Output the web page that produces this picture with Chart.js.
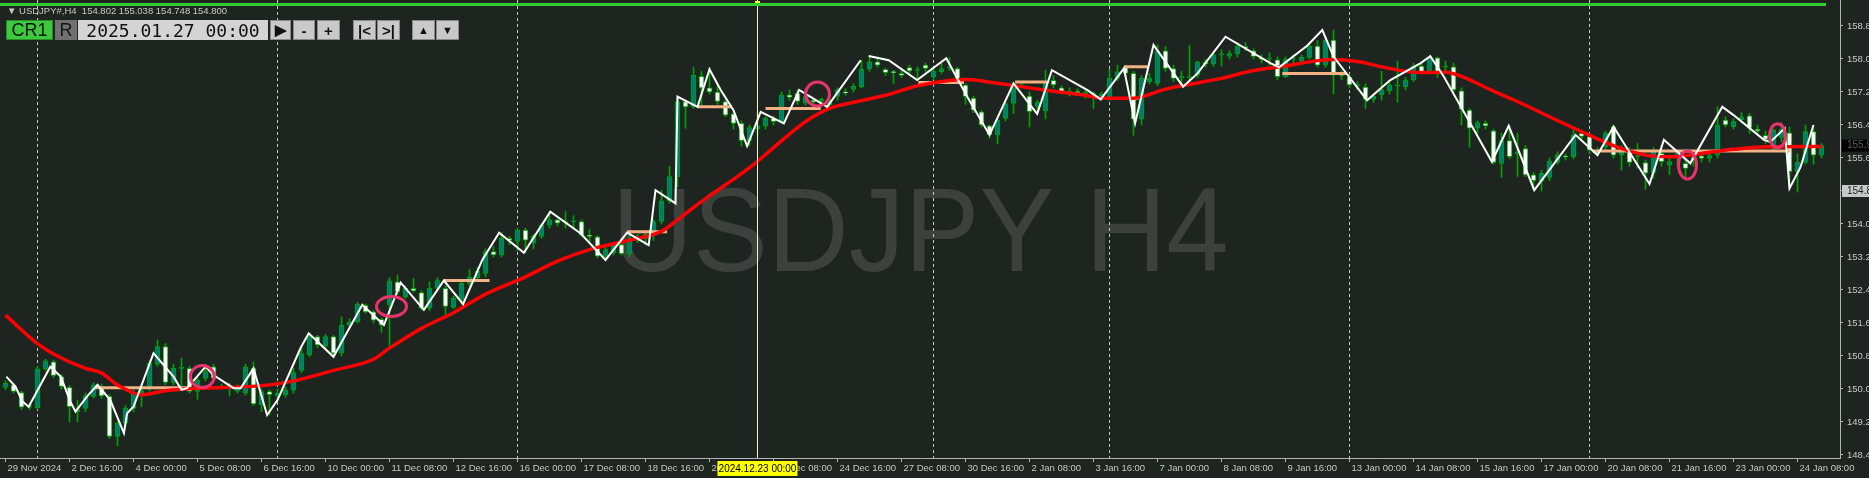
<!DOCTYPE html>
<html>
<head>
<meta charset="utf-8">
<title>USDJPY H4</title>
<script src="https://cdn.jsdelivr.net/npm/chart.js@4/dist/chart.umd.min.js"></script>
<style>
  html, body { margin: 0; padding: 0; background: #1e2521; }
  #wrap { position: relative; width: 1869px; height: 478px; overflow: hidden; }
  #chart { position: absolute; left: 0; top: 0; }
  .topline { position: absolute; left: 0; top: 3px; width: 1826px; height: 3px; background: #32cd32; }
  .hdr { position: absolute; left: 7px; top: 5px; font: 9.5px "Liberation Sans", sans-serif; color: #c8c8c8; white-space: nowrap; }
  .box { position: absolute; top: 20px; height: 20px; box-sizing: border-box; display: flex;
         align-items: center; justify-content: center; font-family: "Liberation Sans", sans-serif; color: #111; }
  .btn { background: #c9c9c9; border: 1px solid #8a8a8a; font-size: 15px; font-weight: bold; }
</style>
</head>
<body>
<div id="wrap">
  <canvas id="chart" width="1869" height="478"></canvas>
  <div class="topline"></div>
  <div class="hdr">&#9660; USDJPY#,H4&nbsp; 154.802 155.038 154.748 154.800</div>
  <div class="box" style="left:6px;width:47px;background:#3dc93d;font-size:18px;border:1px solid #2b8a2b;">CR1</div>
  <div class="box" style="left:55px;width:22px;background:#707070;font-size:18px;color:#151515;">R</div>
  <div class="box" style="left:78px;width:190px;background:#d4d4d4;font:18px 'DejaVu Sans Mono',monospace;">2025.01.27 00:00</div>
  <div class="box btn" style="left:270px;width:21px;">&#9654;</div>
  <div class="box btn" style="left:293px;width:22px;">-</div>
  <div class="box btn" style="left:317px;width:23px;">+</div>
  <div class="box btn" style="left:353px;width:23px;">|&lt;</div>
  <div class="box btn" style="left:377px;width:23px;">&gt;|</div>
  <div class="box btn" style="left:412px;width:23px;font-size:11px;">&#9650;</div>
  <div class="box btn" style="left:436px;width:23px;font-size:11px;">&#9660;</div>
</div>
<script>
// time axis: one label every 8 H4 bars
const tickBars = [0, 8, 16, 24, 32, 40, 48, 56, 64, 72, 80, 88, 96, 104, 112, 120, 128, 136, 144, 152, 160, 168, 176, 184, 192, 200, 208, 216, 224];
const tickLabels = ["29 Nov 2024", "2 Dec 16:00", "4 Dec 00:00", "5 Dec 08:00", "6 Dec 16:00", "10 Dec 00:00", "11 Dec 08:00",
  "12 Dec 16:00", "16 Dec 00:00", "17 Dec 08:00", "18 Dec 16:00", "20 Dec 00:00", "23 Dec 08:00", "24 Dec 16:00",
  "27 Dec 08:00", "30 Dec 16:00", "2 Jan 08:00", "3 Jan 16:00", "7 Jan 00:00", "8 Jan 08:00", "9 Jan 16:00",
  "13 Jan 00:00", "14 Jan 08:00", "15 Jan 16:00", "17 Jan 00:00", "20 Jan 08:00", "21 Jan 16:00", "23 Jan 00:00", "24 Jan 08:00"];
const priceTicks = [148.4, 149.2, 150.0, 150.8, 151.6, 152.4, 153.2, 154.0, 154.8, 155.6, 156.4, 157.2, 158.0, 158.8];

// weekly separators (bar index of Monday 00:00)
const separatorBars = [4, 34, 64, 94, 116, 138, 168, 198];
const crosshairBar = 94;
const crosshairLabel = "2024.12.23 00:00";
const bidPrice = 155.9;
const markPrice = 154.8;

const opens = [
  150.04,150.10,149.91,149.56,149.55,150.49,150.66,150.30,150.04,149.45,
  149.53,149.82,150.05,149.82,148.85,149.17,149.53,149.90,150.00,150.60,
  151.03,150.16,150.50,150.50,149.94,150.26,150.54,150.07,150.02,149.95,
  149.90,150.50,149.62,149.94,149.84,149.86,149.97,150.45,150.83,151.27,
  151.04,151.27,150.87,151.54,151.63,152.03,151.87,151.69,152.04,152.60,
  152.24,152.44,152.34,151.96,152.44,152.44,151.98,152.17,152.56,152.70,
  152.80,153.33,153.25,153.65,153.58,153.85,153.55,153.70,153.97,154.10,
  154.03,154.05,154.06,153.72,153.69,153.22,153.30,153.50,153.28,153.60,
  153.65,153.78,154.06,154.56,155.15,156.97,156.84,157.58,157.30,157.20,
  156.97,156.67,156.44,156.02,156.30,156.38,156.56,156.48,157.13,157.17,
  156.93,157.00,156.98,156.89,157.09,157.20,157.26,157.33,157.76,157.93,
  157.75,157.68,157.65,157.79,157.72,157.85,157.57,157.69,157.78,157.77,
  157.37,157.05,156.72,156.38,156.16,156.56,156.92,157.35,157.10,156.85,
  156.75,157.48,157.30,157.18,157.22,157.15,157.14,157.05,157.05,157.53,
  157.79,157.65,156.54,157.45,157.41,158.20,157.77,157.55,157.55,157.61,
  157.92,157.88,158.10,158.07,158.12,158.30,158.20,158.02,158.00,157.98,
  157.57,158.00,157.96,158.04,158.31,157.85,158.46,157.61,157.57,157.35,
  157.32,157.02,157.13,157.23,157.35,157.33,157.49,157.83,157.69,158.03,
  157.80,157.81,157.23,156.76,156.32,156.44,156.26,155.47,156.02,155.70,
  155.83,155.19,155.05,155.13,155.49,155.65,155.63,156.20,156.12,155.79,
  155.87,156.36,155.67,155.78,155.63,155.49,155.24,155.71,155.43,155.63,
  155.47,155.55,155.65,155.59,155.67,156.52,156.36,156.52,156.62,156.30,
  156.15,155.83,156.10,156.21,155.27,155.49,156.24,155.67];
const highs = [
  150.20,150.14,149.95,149.65,150.55,150.72,150.70,150.35,150.08,149.73,
  149.90,150.15,150.12,149.86,149.20,149.60,149.98,150.10,150.68,151.19,
  151.10,150.60,150.75,150.55,150.30,150.60,150.60,150.12,150.14,150.10,
  150.60,150.66,150.00,149.98,150.00,150.05,150.50,151.00,151.35,151.30,
  151.32,151.30,151.75,151.70,152.10,152.06,151.90,151.72,152.70,152.76,
  152.50,152.68,152.38,152.60,152.70,152.50,152.25,152.60,152.90,152.95,
  153.40,153.45,153.79,153.70,153.90,153.90,153.75,154.00,154.30,154.12,
  154.30,154.20,154.10,153.87,153.72,153.45,153.55,153.64,153.79,153.75,
  153.80,154.10,154.82,155.40,157.10,157.00,157.80,157.70,157.80,157.40,
  157.00,156.70,156.50,156.40,156.72,156.60,156.62,157.20,157.25,157.25,
  157.15,157.05,157.06,157.05,157.30,157.28,157.40,157.97,158.07,158.00,
  157.78,157.72,157.77,157.85,157.81,157.90,157.75,157.90,158.03,157.80,
  157.40,157.10,156.75,156.40,156.55,156.95,157.35,157.43,157.20,157.00,
  157.73,157.60,157.35,157.30,157.28,157.25,157.20,157.20,157.75,157.85,
  157.85,157.70,157.60,157.65,158.34,158.30,157.85,157.70,158.33,157.95,
  158.00,158.15,158.22,158.20,158.40,158.40,158.25,158.10,158.15,158.05,
  158.05,158.10,158.10,158.35,158.45,158.55,158.70,157.70,157.62,157.45,
  157.40,157.15,157.70,157.45,157.95,157.55,157.90,157.90,158.07,158.05,
  157.95,157.90,157.30,156.80,156.50,156.50,156.30,156.20,156.38,156.20,
  155.90,155.25,155.30,155.60,155.75,155.70,156.30,156.25,156.16,155.85,
  156.25,156.40,155.90,155.85,155.95,155.55,155.85,155.80,155.60,155.75,
  155.55,155.70,155.72,155.75,156.84,156.60,156.55,156.70,156.68,156.40,
  156.25,156.30,156.45,156.35,155.70,156.40,156.30,155.95];
const lows = [
  149.98,149.90,149.50,149.50,149.50,150.45,150.28,150.00,149.20,149.20,
  149.45,149.78,149.78,148.80,148.62,149.10,149.45,149.57,149.95,150.55,
  150.10,150.10,150.00,149.90,149.75,150.20,150.20,150.00,149.83,149.90,
  149.85,149.60,149.45,149.37,149.70,149.80,149.90,150.40,150.78,151.00,
  150.98,150.78,150.80,151.50,151.60,151.84,151.60,151.37,150.99,152.30,
  152.20,152.35,151.92,151.90,152.40,151.80,151.95,152.06,152.50,152.65,
  152.72,153.20,153.20,153.50,153.35,153.30,153.40,153.65,153.90,153.95,
  153.90,153.90,153.70,153.57,153.18,153.10,153.25,153.25,153.20,153.55,
  153.49,153.60,154.00,154.50,154.90,156.32,156.80,156.84,157.15,156.90,
  156.60,156.30,155.89,155.90,156.15,156.30,156.40,156.44,157.00,156.90,
  156.88,156.92,156.90,156.84,157.00,157.12,157.20,157.30,157.70,157.80,
  157.60,157.41,157.55,157.65,157.49,157.70,157.50,157.65,157.72,157.40,
  156.90,156.70,156.35,156.08,155.94,156.50,156.68,157.30,156.35,156.67,
  156.55,157.30,157.15,157.10,157.12,157.05,156.80,157.00,157.00,157.48,
  157.60,156.15,156.40,157.40,157.35,157.70,157.45,157.33,157.45,157.55,
  157.80,157.82,157.83,158.00,158.05,158.20,158.00,157.90,157.85,157.50,
  157.55,157.90,157.90,158.00,157.80,157.80,157.15,157.50,157.30,157.25,
  156.80,156.95,157.00,157.15,156.95,157.25,157.45,157.65,157.65,157.55,
  157.70,157.20,156.40,155.86,156.20,156.30,155.45,155.13,155.58,155.15,
  155.15,154.82,154.80,155.05,155.45,155.55,155.58,156.05,155.70,155.67,
  155.80,155.60,155.30,155.40,155.35,154.84,155.10,155.40,155.20,155.40,
  155.10,155.40,155.50,155.50,155.60,156.35,156.30,156.45,156.20,156.15,
  155.95,155.78,156.00,154.86,154.78,155.45,155.45,155.60];
const closes = [
  150.14,149.94,149.56,149.60,150.49,150.68,150.32,150.06,149.57,149.50,
  149.83,150.10,149.83,148.85,149.17,149.53,149.90,149.96,150.62,151.03,
  150.16,150.50,150.52,149.94,150.22,150.42,150.26,150.04,150.00,150.04,
  150.54,149.64,149.94,149.86,149.90,149.97,150.40,150.86,151.27,151.07,
  151.27,150.87,151.55,151.63,152.06,151.87,151.67,151.55,152.62,152.36,
  152.44,152.38,151.96,152.44,152.63,152.00,152.20,152.56,152.72,152.85,
  153.33,153.25,153.65,153.60,153.85,153.61,153.70,153.97,154.10,154.02,
  154.06,154.05,153.73,153.70,153.22,153.38,153.49,153.28,153.61,153.69,
  153.75,154.06,154.56,155.15,156.97,156.84,157.61,157.30,157.20,156.97,
  156.64,156.44,156.02,156.34,156.38,156.56,156.48,157.13,157.07,156.97,
  157.09,156.96,157.02,157.00,157.25,157.18,157.34,157.75,157.93,157.85,
  157.67,157.67,157.60,157.71,157.72,157.77,157.71,157.77,157.78,157.49,
  157.09,156.76,156.40,156.16,156.52,156.92,157.29,157.37,156.72,156.95,
  157.41,157.37,157.21,157.22,157.18,157.20,157.14,157.15,157.53,157.69,
  157.65,156.54,157.53,157.53,158.20,157.77,157.53,157.55,157.55,157.93,
  157.88,158.10,158.10,158.13,158.31,158.27,158.06,157.99,158.00,157.57,
  158.00,158.00,158.04,158.31,157.85,158.46,157.61,157.60,157.37,157.35,
  157.02,157.10,157.25,157.37,157.35,157.49,157.83,157.69,158.03,157.69,
  157.80,157.25,156.78,156.32,156.46,156.38,155.49,156.02,155.63,155.75,
  155.19,155.05,155.23,155.53,155.67,155.62,156.16,156.12,155.79,155.72,
  156.20,155.67,155.83,155.49,155.63,155.23,155.78,155.51,155.51,155.71,
  155.35,155.63,155.59,155.67,156.40,156.40,156.48,156.60,156.32,156.25,
  156.05,156.28,156.30,155.27,155.50,156.24,155.67,155.90];

// moving average [bar, price]
const maPoints = [[0,151.79],[4,151.10],[6,150.85],[10,150.50],[12,150.39],[14,150.10],[17,149.86],[20,149.96],
  [24,150.02],[28,150.04],[33,150.10],[37,150.24],[41,150.45],[46,150.72],[48,150.99],[52,151.47],[56,151.85],
  [60,152.30],[65,152.72],[69,153.10],[73,153.38],[78,153.61],[82,153.82],[84,154.10],[86,154.40],[88,154.68],
  [90,154.95],[92,155.22],[94,155.52],[96,155.85],[98,156.18],[100,156.48],[103,156.80],[106,156.95],[110,157.12],
  [114,157.35],[118,157.48],[120,157.50],[124,157.41],[128,157.30],[131,157.22],[135,157.12],[137,157.05],
  [141,157.05],[145,157.27],[149,157.42],[152,157.53],[156,157.72],[160,157.83],[164,157.96],[166,157.99],
  [169,157.94],[173,157.77],[177,157.67],[180,157.68],[182,157.58],[186,157.22],[189,156.97],[193,156.60],
  [197,156.24],[201,155.90],[205,155.67],[208,155.63],[212,155.71],[216,155.81],[220,155.87],[227,155.88]];

// swing line [bar, price], null = break
const zigzagPoints = [[0.1,150.30],[1.25,150.06],[2.1,149.70],[2.9,149.57],[5.6,150.54],[6.9,150.30],[8.1,149.70],
  [8.75,149.45],[10.2,149.82],[11.5,150.10],[13.1,149.73],[14.8,148.93],[15.2,149.41],[16,149.57],[18.5,150.87],
  [21,150.30],[22,149.98],[22.7,150.02],[25,150.54],[26,150.34],[28.5,150.02],[29.4,150.02],[31,150.50],
  [32.7,149.37],[34,149.73],[36.9,151.00],[37.9,151.35],[41,150.78],[44.6,152.04],[46.2,151.75],[47.3,151.55],
  [49.4,152.58],[52.3,151.92],[54.8,152.63],[57.2,152.06],[59.6,153.13],[61.7,153.79],[64.8,153.30],[68.1,154.30],
  [71.9,153.77],[75,153.13],[77.7,153.79],[80.4,153.49],[81.25,154.82],[83.75,154.50],[84,157.09],[86.5,156.84],
  [88,157.75],[89.4,157.25],[91,156.76],[92.7,155.89],[94.4,156.72],[97.3,156.44],[99.2,157.25],[102.7,156.84],
  [106.9,157.97],[107.4,null],[107.9,158.07],[110.4,157.97],[113.96,157.49],[117.6,158.02],[120.2,157.09],
  [123,156.16],[126,157.41],[128.96,156.67],[130.8,157.73],[135.2,157.25],[136.9,157.02],[139.8,157.77],
  [141.2,156.44],[143.5,158.34],[147.2,157.33],[149,157.65],[152.5,158.54],[158.1,157.90],[159.2,157.80],
  [162.7,158.32],[164.6,158.70],[166,158.06],[170.2,157.00],[173.1,157.49],[176.9,157.90],[178.1,158.07],
  [179.8,157.57],[183.1,156.44],[185.8,155.51],[187.9,156.38],[191.1,154.82],[196.25,156.16],[199,155.67],
  [201,156.36],[205.5,154.97],[207.3,156.04],[210.6,155.47],[214.6,156.84],[216,156.64],[219.8,156.04],
  [220.6,155.99],[222.4,156.32],[223,154.86],[224.4,155.39],[226,156.40]];

// horizontal levels [fromBar, toBar, price]
const levelSegments = [[11.25,23.1,150.03],[54.8,60.5,152.63],[77.7,82.7,153.81],[86.5,90.8,156.84],
  [95,101.9,156.80],[114.1,119.8,157.43],[126.2,130.2,157.44],[136.9,141.6,157.04],[139.8,142.8,157.81],
  [159.6,167.6,157.65],[198.4,223.1,155.77]];

// marked bars [bar, price]
const circleMarks = [[24.6,150.30],[48.25,152.00],[101.5,157.15],[210.25,155.43],[221.5,156.14]];

const barIdx = opens.map((_, i) => i);
const isUp = barIdx.map(i => closes[i] >= opens[i]);

const levelData = [];
levelSegments.forEach(([a, b, p]) => {
  levelData.push({x: a, y: p}, {x: b, y: p}, {x: b + 0.01, y: null});
});

const decor = {
  id: 'decor',
  beforeDraw(chart) {
    const ctx = chart.ctx;
    ctx.save();
    ctx.fillStyle = '#1e2521';
    ctx.fillRect(0, 0, chart.width, chart.height);
    ctx.restore();
  },
  beforeDatasetsDraw(chart) {
    const {ctx, chartArea: a, scales: {x}} = chart;
    ctx.save();
    ctx.fillStyle = '#3c413e';
    ctx.font = '118px "Liberation Sans", Arial, sans-serif';
    ctx.textBaseline = 'alphabetic';
    ctx.translate(612, 271);
    ctx.scale(0.95, 1);
    ctx.fillText('USDJPY H4', 0, 0);
    ctx.restore();

    ctx.save();
    ctx.strokeStyle = '#c8c8c8';
    ctx.lineWidth = 1;
    ctx.setLineDash([3, 3]);
    separatorBars.forEach(b => {
      const px = Math.floor(x.getPixelForValue(b)) + 0.5;
      ctx.beginPath();
      ctx.moveTo(px, a.top);
      ctx.lineTo(px, a.bottom);
      ctx.stroke();
    });
    ctx.restore();
  },
  afterDatasetsDraw(chart) {
    const {ctx, chartArea: a, scales: {x, y}} = chart;
    const sizes = [[12, 11], [15, 10], [12, 12], [9, 14], [8, 12]];
    ctx.save();
    ctx.strokeStyle = '#e8336b';
    ctx.lineWidth = 3;
    circleMarks.forEach(([b, p], k) => {
      ctx.beginPath();
      ctx.ellipse(x.getPixelForValue(b), y.getPixelForValue(p), sizes[k][0], sizes[k][1], 0, 0, Math.PI * 2);
      ctx.stroke();
    });
    ctx.restore();

    // crosshair
    const cx = Math.floor(x.getPixelForValue(crosshairBar)) + 0.5;
    ctx.save();
    ctx.strokeStyle = '#f4f4c8';
    ctx.lineWidth = 1;
    ctx.beginPath();
    ctx.moveTo(cx, 0);
    ctx.lineTo(cx, a.bottom);
    ctx.stroke();
    ctx.fillStyle = '#ffff00';
    ctx.fillRect(cx - 2.5, 1, 5, 5);
    ctx.fillRect(cx - 40, a.bottom + 3, 80, 15);
    ctx.fillStyle = '#000000';
    ctx.font = '10px "Liberation Sans", sans-serif';
    ctx.textAlign = 'center';
    ctx.textBaseline = 'middle';
    ctx.fillText(crosshairLabel, cx, a.bottom + 11);

    // price boxes on the scale
    ctx.textAlign = 'left';
    const by = y.getPixelForValue(bidPrice);
    ctx.fillStyle = '#000000';
    ctx.fillRect(a.right + 2, by - 6, 30, 12);
    ctx.fillStyle = '#5a5a5a';
    ctx.fillText(bidPrice.toFixed(3), a.right + 7, by);
    const my = y.getPixelForValue(markPrice);
    ctx.fillStyle = '#c8c8c8';
    ctx.fillRect(a.right + 2, my - 6, 30, 12);
    ctx.fillStyle = '#1e2521';
    ctx.fillText(markPrice.toFixed(3), a.right + 7, my);
    ctx.restore();
  }
};

const font = {family: '"Liberation Sans", Arial, sans-serif', size: 9.5};

new Chart(document.getElementById('chart'), {
  type: 'bar',
  data: {
    datasets: [
      {
        type: 'line',
        data: zigzagPoints.map(([b, p]) => ({x: b, y: p})),
        borderColor: '#ffffff',
        borderWidth: 2,
        pointRadius: 0,
        spanGaps: false,
        order: 1
      },
      {
        type: 'line',
        data: maPoints.map(([b, p]) => ({x: b, y: p})),
        borderColor: '#ff0000',
        borderWidth: 3.5,
        pointRadius: 0,
        cubicInterpolationMode: 'monotone',
        order: 2
      },
      {
        type: 'line',
        data: levelData,
        borderColor: '#f4b183',
        borderWidth: 3,
        pointRadius: 0,
        spanGaps: false,
        order: 3
      },
      {
        data: barIdx.map(i => ({x: i, y: [opens[i], closes[i]]})),
        backgroundColor: barIdx.map(i => isUp[i] ? '#007c74' : '#ffffff'),
        borderColor: '#00a000',
        borderWidth: 1,
        borderSkipped: false,
        barThickness: 5,
        minBarLength: 1,
        grouped: false,
        order: 4
      },
      {
        data: barIdx.map(i => ({x: i, y: [lows[i], highs[i]]})),
        backgroundColor: '#00a000',
        borderWidth: 0,
        barThickness: 1,
        grouped: false,
        order: 5
      }
    ]
  },
  options: {
    responsive: false,
    animation: false,
    devicePixelRatio: 1,
    layout: {padding: 0},
    plugins: {legend: {display: false}, tooltip: {enabled: false}},
    scales: {
      x: {
        type: 'linear',
        position: 'bottom',
        bounds: 'data',
        offset: false,
        min: -0.6875,
        max: 229.3125,
        afterBuildTicks: s => { s.ticks = tickBars.map(v => ({value: v})); },
        afterFit: s => { s.height = 20; s.paddingLeft = 0; s.paddingRight = 0; },
        ticks: {
          autoSkip: false, maxRotation: 0, align: 'start', labelOffset: 2, padding: 1,
          color: '#c8c8c8', font,
          callback: (v, i) => tickLabels[i]
        },
        grid: {offset: false, drawOnChartArea: false, drawTicks: true, tickLength: 4, color: '#b4b4b4'},
        border: {color: '#b4b4b4'}
      },
      y: {
        type: 'linear',
        position: 'right',
        bounds: 'data',
        min: 148.327,
        max: 159.43,
        afterBuildTicks: s => { s.ticks = priceTicks.map(v => ({value: v})); },
        afterFit: s => { s.width = 29; s.paddingTop = 0; s.paddingBottom = 0; },
        ticks: {padding: 4, color: '#c8c8c8', font, callback: v => v.toFixed(3)},
        grid: {drawOnChartArea: false, drawTicks: true, tickLength: 3, color: '#b4b4b4'},
        border: {color: '#b4b4b4'}
      }
    }
  },
  plugins: [decor]
});
</script>
</body>
</html>
